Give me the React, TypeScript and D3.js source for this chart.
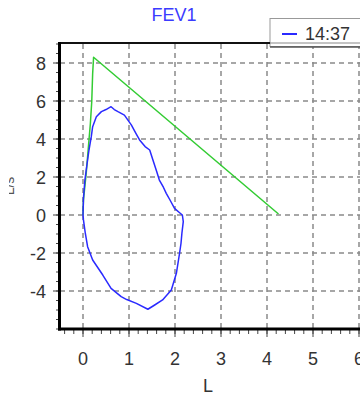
import React from "react";
import * as d3 from "d3";

const title = "FEV1";
const xLabel = "L";
const yLabel = "L/s";
const legendLabel = "14:37";
const xTicks = [0, 1, 2, 3, 4, 5, 6];
const yTicks = [-4, -2, 0, 2, 4, 6, 8];

// green: predicted curve [volume, flow]
const greenX = [0, 0.01, 0.07, 0.13, 0.16, 0.19, 0.21, 0.23, 4.25];
const greenY = [0, 0.8, 2.2, 3.95, 4.8, 5.96, 7.45, 8.3, 0.05];

// blue: measured loop [volume, flow]
const blueX = [0, 0.01, 0.04, 0.07, 0.13, 0.18, 0.21, 0.29, 0.4, 0.5, 0.61, 0.68, 0.76, 0.9, 1.05, 1.15, 1.23, 1.35, 1.45, 1.52, 1.6, 1.66, 1.75, 1.81, 1.9, 1.99, 2.1, 2.16, 2.18, 2.15, 2.13, 2.1, 2.03, 1.92, 1.73, 1.55, 1.41, 1.16, 0.95, 0.83, 0.61, 0.43, 0.21, 0.1, 0.05, 0.01, 0];
const blueY = [0, 0.88, 1.8, 2.37, 3.42, 4.12, 4.65, 5.17, 5.44, 5.55, 5.7, 5.55, 5.44, 5.26, 4.74, 4.3, 3.95, 3.6, 3.42, 2.9, 2.3, 1.84, 1.45, 1.14, 0.75, 0.35, 0.12, 0, -0.35, -0.96, -1.5, -2.0, -3.07, -3.95, -4.47, -4.75, -4.96, -4.65, -4.45, -4.3, -3.86, -3.16, -2.37, -1.67, -0.96, -0.26, 0];

const W = 360;
const H = 396;

export default function App() {
  const x = d3.scaleLinear().domain([-0.5, 6.5]).range([60, 382]);
  const y = d3.scaleLinear().domain([-6, 9]).range([329, 44]);
  const line = d3
    .line<[number, number]>()
    .x((d) => x(d[0]))
    .y((d) => y(d[1]));
  const green: [number, number][] = greenX.map((v, i) => [v, greenY[i]]);
  const blue: [number, number][] = blueX.map((v, i) => [v, blueY[i]]);
  const xMinor = d3.range(-0.4, 6.5, 0.2).map((v) => Math.round(v * 10) / 10);
  const yMinor = d3.range(-6, 9.01, 0.5);
  const font = "'Liberation Sans', Arial, sans-serif";
  const tickColor = "#333";
  const x0 = x(-0.5);
  const yb = y(-6);
  const yt = y(9);
  return (
    <svg
      width={W}
      height={H}
      style={{ position: "fixed", left: 0, top: 0, background: "#fff" }}
      fontFamily={font}
    >
      <defs>
        <clipPath id="plot">
          <rect x={x0} y={yt} width={W - x0} height={yb - yt} />
        </clipPath>
        <clipPath id="ylab">
          <rect x={9} y={150} width={6} height={80} />
        </clipPath>
      </defs>
      <rect x={0} y={0} width={W} height={H} fill="#fff" />
      <text x={174} y={21} textAnchor="middle" fontSize={18} fill="#3b3bff">
        {title}
      </text>
      {/* grid */}
      <g stroke="#8a8a8a" strokeWidth={1.5} strokeDasharray="5,4">
        {xTicks.map((t) => (
          <line key={"gx" + t} x1={x(t)} x2={x(t)} y1={yt} y2={yb} />
        ))}
        {yTicks.map((t) => (
          <line key={"gy" + t} x1={x0} x2={W} y1={y(t)} y2={y(t)} />
        ))}
      </g>
      {/* data */}
      <g clipPath="url(#plot)" fill="none" strokeWidth={1.5} strokeLinejoin="round">
        <path d={line(green) || ""} stroke="#33cc33" />
        <path d={line(blue) || ""} stroke="#2a2aff" />
      </g>
      {/* minor ticks */}
      <g stroke="#444" strokeWidth={1}>
        {xMinor.map((t) => (
          <line key={"mx" + t} x1={x(t)} x2={x(t)} y1={yb} y2={yb + 5} />
        ))}
        {xTicks.map((t) => (
          <line key={"Mx" + t} x1={x(t)} x2={x(t)} y1={yb} y2={yb + 8} />
        ))}
        {yMinor.map((t) => (
          <line key={"my" + t} x1={x0 - 4} x2={x0} y1={y(t)} y2={y(t)} />
        ))}
        {yTicks.map((t) => (
          <line key={"My" + t} x1={x0 - 7} x2={x0} y1={y(t)} y2={y(t)} />
        ))}
      </g>
      {/* legend */}
      <rect x={270} y={18.5} width={100} height={28} fill="#fff" stroke="#999" strokeWidth={1} />
      <line x1={270} x2={370} y1={47} y2={47} stroke="#555" strokeWidth={1.5} />
      <line x1={282} x2={297} y1={34} y2={34} stroke="#2a2aff" strokeWidth={2} />
      <text x={305} y={40} fontSize={18} fill="#333">
        {legendLabel}
      </text>
      {/* frame top */}
      <line x1={x0} x2={270} y1={yt - 1} y2={yt - 1} stroke="#111" strokeWidth={2} />
      <line x1={270} x2={W} y1={yt - 1} y2={yt - 1} stroke="#888" strokeWidth={1} />
      {/* axes */}
      <line x1={x0 - 0.5} x2={x0 - 0.5} y1={yt - 2} y2={yb + 1.5} stroke="#000" strokeWidth={3} />
      <line x1={x0 - 2} x2={W} y1={yb} y2={yb} stroke="#000" strokeWidth={3} />
      {/* tick labels */}
      <g fontSize={18} fill={tickColor}>
        {xTicks.map((t) => (
          <text key={"lx" + t} x={x(t)} y={yb + 36} textAnchor="middle">
            {t}
          </text>
        ))}
        {yTicks.map((t) => (
          <text key={"ly" + t} x={46} y={y(t) + 6.5} textAnchor="end">
            {t}
          </text>
        ))}
      </g>
      <text x={208} y={392} textAnchor="middle" fontSize={18} fill={tickColor}>
        {xLabel}
      </text>
      <g clipPath="url(#ylab)">
        <text
          transform="translate(14,186) rotate(-90)"
          textAnchor="middle"
          fontSize={14}
          fill="#555"
        >
          {yLabel}
        </text>
      </g>
    </svg>
  );
}
